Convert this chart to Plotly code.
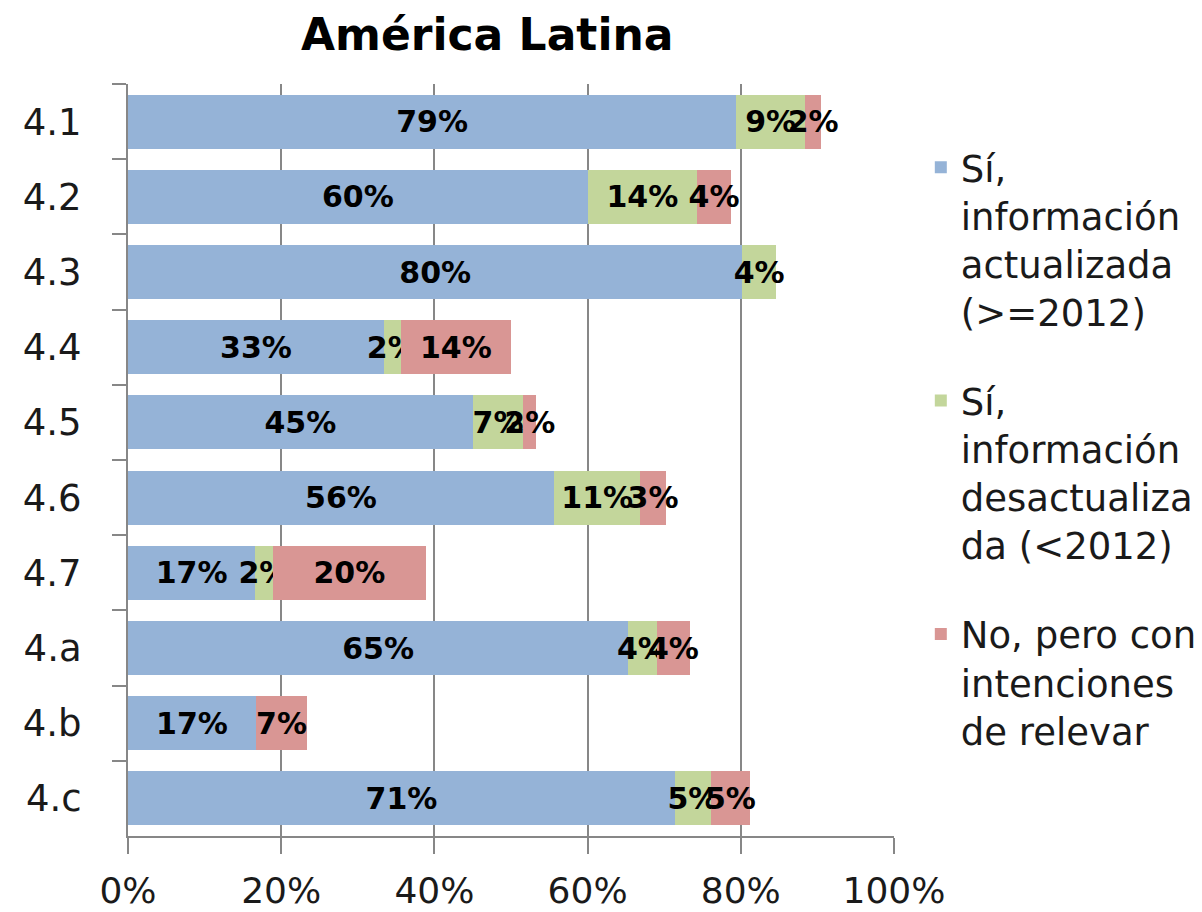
import plotly.graph_objects as go

categories = ["4.1", "4.2", "4.3", "4.4", "4.5", "4.6", "4.7", "4.a", "4.b", "4.c"]
si_actualizada = [79.4, 60.0, 80.2, 33.4, 45.0, 55.6, 16.6, 65.3, 16.7, 71.4]
si_desactualizada = [9.0, 14.3, 4.4, 2.2, 6.6, 11.3, 2.3, 3.7, 0.0, 4.7]
no_intenciones = [2.1, 4.4, 0.0, 14.4, 1.7, 3.3, 20.0, 4.4, 6.7, 5.1]

series_names = [
    "Sí,<br>información<br>actualizada<br>(>=2012)",
    "Sí,<br>información<br>desactualiza<br>da (<2012)",
    "No, pero con<br>intenciones<br>de relevar",
]
series_values = [si_actualizada, si_desactualizada, no_intenciones]
series_colors = ["#95B3D7", "#C3D69B", "#D99694"]
x_ticks = [0, 20, 40, 60, 80, 100]
x_tick_labels = ["0%", "20%", "40%", "60%", "80%", "100%"]

FONT = "DejaVu Sans"
W, H = 1194, 904  # page body has an 8px margin

fig = go.Figure()
for i, (name, vals, col) in enumerate(zip(series_names, series_values, series_colors)):
    fig.add_trace(go.Bar(
        y=categories, x=vals, name=name, orientation="h",
        legendgroup=f"g{i}",
        marker=dict(color=col, line=dict(width=0)),
        text=[f"{round(v)}%" if v > 0 else "" for v in vals],
        textposition="inside", insidetextanchor="middle", textangle=0,
        constraintext="none", cliponaxis=False,
        textfont=dict(family=FONT, size=30, color="#000000", weight="bold"),
    ))

fig.update_layout(
    width=W, height=H,
    barmode="stack", bargap=0.28,
    paper_bgcolor="white", plot_bgcolor="white",
    margin=dict(l=120, r=308, t=76, b=76, autoexpand=False),
    title=dict(text="<b>América Latina</b>", x=0.469, xref="paper", xanchor="center",
               y=1 - 27 / H, yref="container", yanchor="middle",
               font=dict(family=FONT, size=44, color="#000000")),
    legend=dict(x=1.035, y=0.93, xanchor="left", yanchor="top",
                font=dict(family=FONT, size=37, color="#1a1a1a"),
                valign="top", tracegroupgap=38, traceorder="grouped",
                itemwidth=30),
    showlegend=True,
)
fig.update_xaxes(
    range=[0, 100], tickvals=x_ticks, ticktext=x_tick_labels,
    showgrid=True, gridcolor="#878787", gridwidth=2,
    showline=True, linecolor="#878787", linewidth=2,
    ticks="outside", ticklen=16, tickwidth=2, tickcolor="#878787",
    tickfont=dict(family=FONT, size=36, color="#1a1a1a"),
    ticklabelstandoff=6,
    zeroline=False, fixedrange=True, automargin=False,
)
fig.update_yaxes(
    autorange="reversed",
    showline=True, linecolor="#878787", linewidth=2,
    ticks="outside", tickson="boundaries", ticklen=14, tickwidth=2, tickcolor="#878787",
    tickfont=dict(family=FONT, size=37, color="#1a1a1a"),
    ticklabelstandoff=37,
    showgrid=False, automargin=False,
)

fig.write_html("out.html")
